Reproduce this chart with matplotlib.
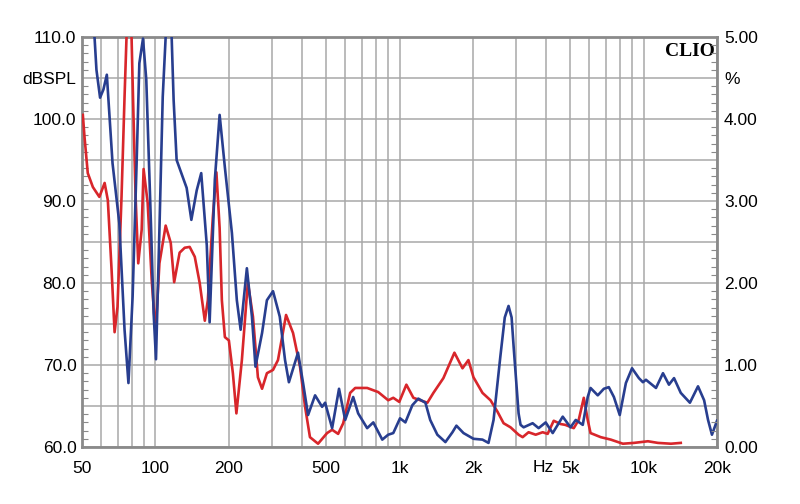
import matplotlib
matplotlib.use("Agg")
import matplotlib.pyplot as plt
from matplotlib.ticker import MultipleLocator, FuncFormatter, FixedLocator
import matplotlib.transforms as mtrans

# ---- data ----
blue_freq = [53.6, 56.3, 57.3, 59.3, 61.2, 63.2, 66.7, 71.1, 74.7, 77.5, 80.6, 83.7, 85.9, 88.9,
             91.7, 96.0, 98.3, 100.5, 103.8, 107.1, 110.1, 113.2, 116.5, 118.7, 122.1, 128,
             134.2, 140.3, 147.6, 154, 162.3, 166.7, 175.1, 183.2, 192.5, 205.7, 215.5,
             223.4, 236.9, 248.5, 256.9, 273.4, 286.2, 303.2, 323.1, 339.6, 352.2, 383.8,
             402.6, 422, 450.9, 481.8, 495.7, 529.6, 565.2, 599, 646, 677, 737, 781, 850,
             899, 943, 1005, 1057, 1129, 1194, 1277, 1336, 1429, 1542, 1648, 1711, 1829,
             2010, 2188, 2316, 2429, 2589, 2700, 2798, 2880, 2936, 3076, 3134, 3226, 3512, 3716, 3972,
             4244, 4665, 5020, 5275, 5636, 5906, 6065, 6493, 6877, 7206, 7560, 7988, 8466,
             8971, 9570, 9942, 10230, 11245, 12013, 12710, 13334, 14210, 15488, 16720,
             17710, 18380, 19070, 20000]
blue_db = [113.0, 109.9, 106.0, 102.6, 103.6, 105.4, 94.6, 87.3, 74.3, 67.8, 78.3, 94.6, 106.8, 109.8,
           104.8, 86.5, 76.3, 70.7, 86.5, 102.7, 110.0, 111.5, 110.0, 102.3, 95.0, 93.3,
           91.6, 87.7, 91.3, 93.4, 84.6, 75.2, 92.6, 100.5, 94.1, 86.1, 77.9,
           74.3, 81.8, 75.9, 69.8, 73.9, 77.9, 79.0, 75.9, 70.6, 67.9, 71.5,
           67.8, 63.9, 66.3, 64.9, 65.4, 62.3, 67.1, 63.3, 66.1, 64.1, 62.3, 63.0, 60.9,
           61.5, 61.7, 63.5, 63.0, 65.1, 65.9, 65.4, 63.3, 61.5, 60.6, 61.8, 62.6, 61.7,
           61.0, 60.9, 60.5, 63.3, 71.0, 75.8, 77.2, 75.8, 72.2, 64.1, 62.7, 62.4, 62.9, 62.3, 63.0,
           61.7, 63.7, 62.4, 63.3, 62.7, 66.1, 67.2, 66.3, 67.1, 67.3, 66.1, 63.9, 67.8,
           69.6, 68.4, 67.9, 68.2, 67.2, 69.0, 67.6, 68.4, 66.6, 65.4, 67.4,
           65.7, 63.3, 61.5, 63.2]

red_freq = [50.4, 51.2, 52.8, 55.4, 58.9, 61.9, 63.8, 66.1, 68.0, 69.9, 72.6, 74.7, 76.1,
            78.1, 79.8, 80.9, 82.9, 85.0, 87.8, 89.4, 92.9, 96.5, 100.1, 103.8, 110.1,
            115.5, 119.3, 125.6, 131.8, 138.1, 144.9, 151.8, 159.3, 163.9, 171.8, 177.7,
            183.2, 187.1, 192.5, 199.9, 207.6, 214.6, 226, 239.1, 250.9, 262.9, 273.4,
            286.2, 303.2, 317.7, 342.9, 366.3, 391.1, 410.3, 429.6, 463.7, 504.9, 529.6,
            560.4, 587.9, 627.7, 658.4, 737, 818, 899, 943, 997.8, 1067, 1140, 1217, 1301,
            1377, 1513, 1679, 1812, 1916, 2010, 2188, 2360, 2521, 2670, 2851, 3076, 3196,
            3380, 3614, 3861, 4046, 4285, 4575, 4776, 5177, 5425, 5691, 5906, 6065, 6679,
            7343, 8229, 9133, 10420, 11453, 12951, 14210]
red_db = [100.5, 97.8, 93.4, 91.7, 90.5, 92.2, 90.1, 81.6, 74.0, 77.1, 90.5, 102.7, 110.0,
          112.0, 110.0, 102.7, 90.5, 82.4, 86.5, 93.9, 89.8, 80.4, 73.9, 82.4, 87.0,
          84.9, 80.1, 83.7, 84.3, 84.4, 83.2, 80.0, 75.4, 77.9, 88.0, 93.5,
          86.7, 77.9, 73.4, 73.0, 69.0, 64.1, 70.6, 80.1, 75.9, 68.5, 67.1,
          69.0, 69.4, 70.6, 76.1, 73.9, 69.8, 64.9, 61.2, 60.4, 61.7, 62.1,
          61.6, 62.9, 66.6, 67.2, 67.2, 66.7, 65.7, 66.0, 65.5, 67.6, 66.0, 65.7, 65.4,
          66.6, 68.4, 71.5, 69.6, 70.6, 68.5, 66.6, 65.7, 64.3, 62.9, 62.4, 61.5, 61.2,
          61.8, 61.5, 61.8, 61.6, 63.2, 62.8, 62.7, 62.3, 63.3, 66.0, 63.3, 61.7, 61.2,
          60.9, 60.4, 60.5, 60.7, 60.5, 60.4, 60.5]

x_grid = [50, 60, 70, 80, 90, 100, 200, 300, 400, 500, 600, 700, 800, 900,
          1000, 2000, 3000, 4000, 5000, 6000, 7000, 8000, 9000, 10000, 20000]
x_labels = {50: "50", 100: "100", 200: "200", 500: "500", 1000: "1k", 2000: "2k",
            5000: "5k", 10000: "10k", 20000: "20k"}

FONT = "Liberation Sans"
FS = 12.5
GRID = "#a8a8a8"
SPINE = "#8a8a8a"
BLUE = "#283e8f"
RED = "#d8262b"

fig = plt.figure(figsize=(8, 5.04), dpi=100)
ax = fig.add_axes([82 / 800, 57 / 504, 635 / 800, 410 / 504])
ax.set_xscale("log")
ax.set_xlim(50, 20000)
ax.set_ylim(60, 110)

# grid
ax.xaxis.set_major_locator(FixedLocator(x_grid))
ax.set_xticklabels([x_labels.get(v, "") for v in x_grid], fontfamily=FONT, fontsize=FS)
ax.xaxis.set_minor_locator(FixedLocator([]))
ax.tick_params(axis="x", which="both", length=0, pad=10)
ax.grid(True, which="major", axis="both", color=GRID, lw=1.1, zorder=0)

ax.yaxis.set_major_locator(MultipleLocator(5))
ax.yaxis.set_minor_locator(MultipleLocator(1))
def lfmt(v, pos):
    if abs(v - 105) < 0.01:
        return "dBSPL"
    if abs(v % 10) < 0.01:
        return f"{v:.1f}"
    return ""
ax.yaxis.set_major_formatter(FuncFormatter(lfmt))
ax.tick_params(axis="y", which="major", direction="in", length=0, pad=4,
               labelsize=FS, colors="black")
ax.tick_params(axis="y", which="minor", direction="in", length=4, width=0.8, color=SPINE)
for lab in ax.get_yticklabels():
    lab.set_fontfamily(FONT)

for s in ax.spines.values():
    s.set_color(SPINE)
    s.set_linewidth(2)

ax.plot(red_freq, red_db, color=RED, lw=1.9, zorder=3, solid_joinstyle="round")
ax.plot(blue_freq, blue_db, color=BLUE, lw=1.9, zorder=4, solid_joinstyle="round")

# right axis (%)
ax2 = ax.twinx()
ax2.set_ylim(0, 5)
ax2.yaxis.set_major_locator(MultipleLocator(0.5))
ax2.yaxis.set_minor_locator(MultipleLocator(0.1))
def rfmt(v, pos):
    if abs(v - 4.5) < 0.001:
        return "%"
    if abs(v % 1) < 0.001 or abs(v % 1 - 1) < 0.001:
        return f"{v:.2f}"
    return ""
ax2.yaxis.set_major_formatter(FuncFormatter(rfmt))
ax2.tick_params(axis="y", which="major", direction="in", length=0, pad=5,
                labelsize=FS, colors="black")
ax2.tick_params(axis="y", which="minor", direction="in", length=4, width=0.8, color=SPINE)
for lab in ax2.get_yticklabels():
    lab.set_fontfamily(FONT)
for s in ax2.spines.values():
    s.set_visible(False)

# Hz label on x axis
trans = mtrans.blended_transform_factory(ax.transData, ax.transAxes)
ax.text(3900, -0.05, "Hz", transform=trans, ha="center", va="center",
        fontfamily=FONT, fontsize=FS)

ax.text(0.997, 0.985, "CLIO", transform=ax.transAxes, ha="right", va="top",
        fontfamily="Liberation Serif", fontweight="bold", fontsize=14, zorder=6)

fig.savefig("out.png", dpi=100)
